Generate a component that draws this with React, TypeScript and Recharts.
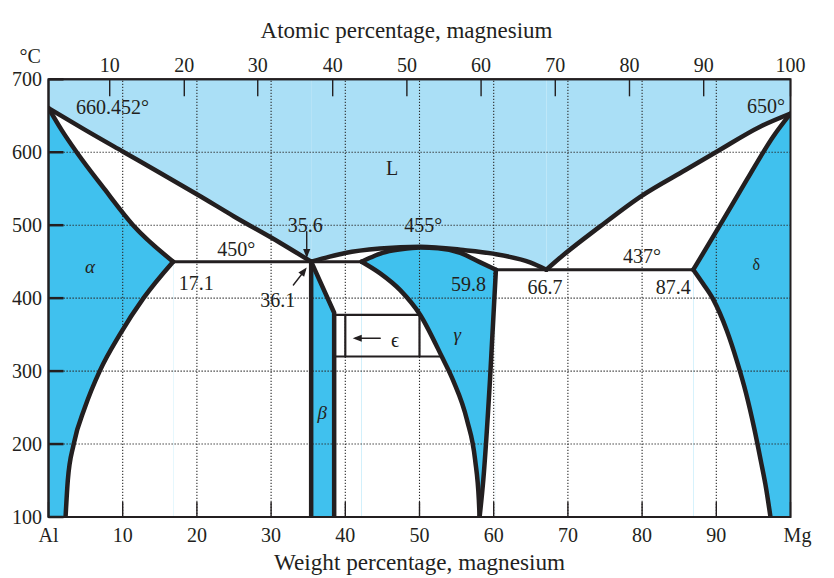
import React from 'react';
import {
  ComposedChart,
  XAxis,
  YAxis,
  Area,
  Line,
  Scatter,
  ReferenceArea,
  Label,
} from 'recharts';

const INK = '#231f20';
const LIQUID = '#aadff6';
const SOLID = '#40c1ee';
const WHITE = '#ffffff';
const FONT = '"Liberation Serif", "Times New Roman", serif';

// ---------- axes ----------
const wtTicks = [0, 10, 20, 30, 40, 50, 60, 70, 80, 90, 100];
const wtTickLabels = ['Al', '10', '20', '30', '40', '50', '60', '70', '80', '90', 'Mg'];
const atTickPositions = [8.25, 18.3, 28.2, 38.3, 48.3, 58.3, 68.3, 78.3, 88.3, 100];
const atTickLabels = ['10', '20', '30', '40', '50', '60', '70', '80', '90', '100'];
const tempTicks = [100, 200, 300, 400, 500, 600, 700];
const gridX = [10, 20, 30, 40, 50, 60, 70, 80, 90];
const gridY = [200, 300, 400, 500, 600];

// ---------- phase boundaries (x = wt% Mg, t = °C) ----------
const liquidusAlSide = [
  { x: 0, t: 660.5 }, { x: 4.7, t: 632 }, { x: 10, t: 601 }, { x: 15, t: 572 },
  { x: 20.4, t: 540 }, { x: 25, t: 512 }, { x: 31.2, t: 476 }, { x: 35.4, t: 450 },
];
const liquidusMiddle = [
  { x: 35.4, t: 450 }, { x: 37.9, t: 457 }, { x: 40, t: 462 }, { x: 44.7, t: 468 },
  { x: 50.1, t: 470.5 }, { x: 55.9, t: 466 }, { x: 59.9, t: 461 }, { x: 64.9, t: 449 },
  { x: 67.1, t: 439 },
];
const liquidusMgSide = [
  { x: 67.1, t: 439 }, { x: 68.9, t: 455 }, { x: 74.3, t: 498 }, { x: 79.9, t: 540 },
  { x: 85.9, t: 576 }, { x: 90.1, t: 601 }, { x: 95.9, t: 635 }, { x: 100, t: 653 },
];
const alphaSolidus = [
  { x: 0, t: 660.5 }, { x: 1.8, t: 630 }, { x: 3.8, t: 600 }, { x: 7.5, t: 550 },
  { x: 11.4, t: 500 }, { x: 16.8, t: 450 },
];
const alphaSolvus = [
  { x: 2.3, t: 100 }, { x: 2.6, t: 150 }, { x: 3.4, t: 200 }, { x: 4.9, t: 250 },
  { x: 6.9, t: 300 }, { x: 9.6, t: 350 }, { x: 12.8, t: 400 }, { x: 16.8, t: 450 },
];
const betaTop = [{ x: 35.4, t: 450 }, { x: 38.5, t: 380 }];
const betaLeft = [{ x: 35.4, t: 100 }, { x: 35.4, t: 450 }];
const betaRight = [{ x: 35.4, t: 450 }, { x: 38.5, t: 380 }, { x: 38.5, t: 100 }];
const gammaDome = [
  { x: 42.2, t: 450 }, { x: 43.5, t: 456 }, { x: 45, t: 462 }, { x: 47.5, t: 467 },
  { x: 50.1, t: 469.5 }, { x: 52.5, t: 468.5 }, { x: 55.5, t: 462 }, { x: 58.2, t: 449 },
  { x: 60.3, t: 439 },
];
const gammaLeft = [
  { x: 42.2, t: 450 }, { x: 44.7, t: 434 }, { x: 47.4, t: 411 }, { x: 50.1, t: 377 },
  { x: 53.0, t: 320 }, { x: 54.5, t: 288 }, { x: 56.4, t: 233 }, { x: 57.5, t: 178 },
  { x: 58.0, t: 123 }, { x: 58.1, t: 100 },
];
const gammaRight = [
  { x: 58.1, t: 100 }, { x: 58.6, t: 151 }, { x: 59.5, t: 288 }, { x: 60.3, t: 439 },
];
const deltaSolidus = [
  { x: 86.9, t: 439 }, { x: 90.5, t: 500 }, { x: 94.1, t: 562 }, { x: 97.7, t: 622 },
  { x: 100, t: 653 },
];
const deltaSolvus = [
  { x: 86.9, t: 439 }, { x: 88.2, t: 420 }, { x: 89.6, t: 398 }, { x: 91.4, t: 356 },
  { x: 92.8, t: 313 }, { x: 94.0, t: 270 }, { x: 95.1, t: 222 }, { x: 96.0, t: 177 },
  { x: 96.7, t: 140 }, { x: 97.3, t: 100 },
];
const eutectic450 = [{ x: 16.8, t: 450 }, { x: 42.2, t: 450 }];
const eutectic437 = [{ x: 60.3, t: 439 }, { x: 86.9, t: 439 }];
const epsilonTop = [{ x: 38.5, t: 377 }, { x: 50.1, t: 377 }];
const epsilonBottom = [{ x: 38.5, t: 320 }, { x: 53.0, t: 320 }];
const epsilonLeft = [{ x: 40, t: 320 }, { x: 40, t: 377 }];
const epsilonRight = [{ x: 50.0, t: 320 }, { x: 50.0, t: 377 }];

// ---------- annotations ----------
const arrow356 = [{ x: 34.8, t: 491 }, { x: 34.8, t: 458 }];
const arrow361 = [{ x: 33.0, t: 418 }, { x: 34.6, t: 439 }];
const arrowEps = [{ x: 44.7, t: 345 }, { x: 41.4, t: 345 }];
const arrowHeads = [
  { x: 34.8, t: 455, angle: 90 },
  { x: 34.8, t: 442, angle: -52.6 },
  { x: 41.0, t: 345, angle: 180 },
];
const numberLabels = [
  { x: 8.63, t: 662.7, text: '660.452°' },
  { x: 96.7, t: 663.4, text: '650°' },
  { x: 46.3, t: 578.5, text: 'L' },
  { x: 25.3, t: 467.5, text: '450°' },
  { x: 34.6, t: 500.4, text: '35.6' },
  { x: 50.5, t: 500.4, text: '455°' },
  { x: 19.9, t: 421, text: '17.1' },
  { x: 30.9, t: 397.7, text: '36.1' },
  { x: 56.6, t: 419.6, text: '59.8' },
  { x: 66.9, t: 415.5, text: '66.7' },
  { x: 80.0, t: 458, text: '437°' },
  { x: 84.2, t: 415.5, text: '87.4' },
  { x: 46.7, t: 343, text: 'ϵ' },
];
const phaseLabels = [
  { x: 5.6, t: 444, text: 'α' },
  { x: 36.9, t: 244, text: 'β' },
  { x: 55.1, t: 351, text: 'γ' },
];
const deltaLabel = [{ x: 95.4, t: 445.6, text: 'δ' }];

const WtTick = (props: any) => {
  const { x, y, payload } = props;
  const i = wtTicks.indexOf(payload.value);
  const dx = payload.value === 100 ? 7 : 0;
  return (
    <text x={x + dx} y={y} dy="0.71em" textAnchor="middle" fill={INK} fontSize={20} fontFamily={FONT}>
      {wtTickLabels[i]}
    </text>
  );
};

const textShape = (size: number, italic: boolean) => (p: any) => (
  <text
    x={p.cx}
    y={p.cy}
    dy="0.35em"
    textAnchor="middle"
    fill={INK}
    fontSize={size}
    fontStyle={italic ? 'italic' : 'normal'}
    fontFamily={FONT}
  >
    {p.payload.text}
  </text>
);

const arrowHeadShape = (p: any) => {
  const a = (p.payload.angle * Math.PI) / 180;
  const L = 9;
  const W = 3.6;
  const bx = p.cx - L * Math.cos(a);
  const by = p.cy - L * Math.sin(a);
  const nx = -Math.sin(a) * W;
  const ny = Math.cos(a) * W;
  const pts = `${p.cx},${p.cy} ${bx + nx},${by + ny} ${bx - nx},${by - ny}`;
  return <polygon points={pts} fill={INK} />;
};

const regionArea = (data: any[], fill: string, base: number, key: string) => (
  <Area
    key={key}
    data={data}
    dataKey="t"
    type="monotone"
    baseValue={base}
    fill={fill}
    fillOpacity={1}
    stroke="none"
    dot={false}
    activeDot={false}
    isAnimationActive={false}
  />
);

const boundary = (data: any[], key: string, width = 4.5, type: any = 'monotone', dash?: string, color = INK) => (
  <Line
    key={key}
    data={data}
    dataKey="t"
    type={type}
    stroke={color}
    strokeWidth={width}
    strokeDasharray={dash}
    strokeLinecap={dash ? 'butt' : 'round'}
    strokeLinejoin="round"
    dot={false}
    activeDot={false}
    isAnimationActive={false}
  />
);

export default function App() {
  return (
    <div style={{ position: 'absolute', left: 0, top: 0, background: '#fff' }}>
      <ComposedChart width={834} height={578} margin={{ top: 0, right: 43.5, bottom: 0, left: 0 }}>
        <XAxis
          xAxisId={0}
          dataKey="x"
          type="number"
          domain={[0, 100]}
          allowDataOverflow
          ticks={wtTicks}
          interval={0}
          orientation="bottom"
          height={61}
          tickSize={-15}
          tickMargin={25.8}
          tick={<WtTick />}
          tickLine={{ stroke: INK, strokeWidth: 1.4 }}
          axisLine={{ stroke: INK, strokeWidth: 2 }}
        >
          <Label
            value="Weight percentage, magnesium"
            position="insideBottom"
            offset={8}
            fill={INK}
            fontSize={23.2}
            fontFamily={FONT}
          />
        </XAxis>
        <XAxis
          xAxisId="at"
          dataKey="x"
          type="number"
          domain={[0, 100]}
          allowDataOverflow
          ticks={atTickPositions}
          interval={0}
          orientation="top"
          height={79.3}
          tickSize={-17}
          tickMargin={24.3}
          tickFormatter={(v: number) => atTickLabels[atTickPositions.indexOf(v)]}
          tick={{ fill: INK, fontSize: 20, fontFamily: FONT }}
          tickLine={{ stroke: INK, strokeWidth: 1.4 }}
          axisLine={{ stroke: INK, strokeWidth: 2 }}
        >
          <Label
            value="Atomic percentage, magnesium"
            position="insideTop"
            offset={21.5}
            dx={-13}
            fill={INK}
            fontSize={23}
            fontFamily={FONT}
          />
        </XAxis>
        <YAxis
          yAxisId={0}
          dataKey="t"
          type="number"
          domain={[100, 700]}
          allowDataOverflow
          ticks={tempTicks}
          interval={0}
          width={48.5}
          tickSize={-15}
          tickMargin={21.5}
          tick={{ fill: INK, fontSize: 20, fontFamily: FONT }}
          tickLine={{ stroke: INK, strokeWidth: 2.5 }}
          axisLine={{ stroke: INK, strokeWidth: 2 }}
        >
          <Label value="°C" position="top" offset={16.3} dx={6} fill={INK} fontSize={20} fontFamily={FONT} />
        </YAxis>

        {/* phase fields */}
        {regionArea(liquidusAlSide, LIQUID, 700, 'l1')}
        {regionArea(liquidusMiddle, LIQUID, 700, 'l2')}
        {regionArea(liquidusMgSide, LIQUID, 700, 'l3')}
        {regionArea(alphaSolidus, SOLID, 100, 'a1')}
        {regionArea(alphaSolvus, WHITE, 100, 'a2')}
        {regionArea(deltaSolidus, SOLID, 100, 'd1')}
        {regionArea(deltaSolvus, WHITE, 100, 'd2')}
        {regionArea(betaTop, SOLID, 100, 'b1')}
        {regionArea(gammaDome, SOLID, 100, 'g1')}
        {regionArea(gammaLeft, WHITE, 100, 'g2')}
        {regionArea(gammaRight, WHITE, 100, 'g3')}

        {/* dotted grid, drawn over the phase fields */}
        {gridX.map((v) =>
          boundary([{ x: v, t: 100 }, { x: v, t: 700 }], 'gx' + v, 1.1, 'linear', '1.3 1.7', '#2a2a2a'),
        )}
        {gridY.map((v) =>
          boundary([{ x: 0, t: v }, { x: 100, t: v }], 'gy' + v, 1.1, 'linear', '1.3 1.7', '#2a2a2a'),
        )}

        {/* boundaries */}
        {boundary(liquidusAlSide, 'bl1')}
        {boundary(liquidusMiddle, 'bl2')}
        {boundary(liquidusMgSide, 'bl3')}
        {boundary(alphaSolidus, 'ba1')}
        {boundary(alphaSolvus, 'ba2')}
        {boundary(deltaSolidus, 'bd1')}
        {boundary(deltaSolvus, 'bd2')}
        {boundary(betaLeft, 'bb1', 4.5, 'linear')}
        {boundary(betaRight, 'bb2', 4.5, 'linear')}
        {boundary(gammaDome, 'bg1')}
        {boundary(gammaLeft, 'bg2')}
        {boundary(gammaRight, 'bg3')}
        {boundary(eutectic450, 'e1', 3, 'linear')}
        {boundary(eutectic437, 'e2', 3, 'linear')}
        {boundary(epsilonTop, 'eps1', 2.2, 'linear')}
        {boundary(epsilonBottom, 'eps2', 2.2, 'linear')}
        {boundary(epsilonLeft, 'eps3', 2.2, 'linear')}
        {boundary(epsilonRight, 'eps4', 2.2, 'linear')}
        {boundary(arrow356, 'ar1', 1.4, 'linear')}
        {boundary(arrow361, 'ar2', 1.4, 'linear')}
        {boundary(arrowEps, 'ar3', 1.6, 'linear')}

        <Scatter data={arrowHeads} shape={arrowHeadShape} isAnimationActive={false} />
        <Scatter data={numberLabels} shape={textShape(20, false)} isAnimationActive={false} />
        <Scatter data={phaseLabels} shape={textShape(19, true)} isAnimationActive={false} />
        <Scatter data={deltaLabel} shape={textShape(16, false)} isAnimationActive={false} />

        <ReferenceArea x1={0} x2={100} y1={100} y2={700} fill="none" fillOpacity={0} stroke={INK} strokeWidth={2} />
      </ComposedChart>
    </div>
  );
}
